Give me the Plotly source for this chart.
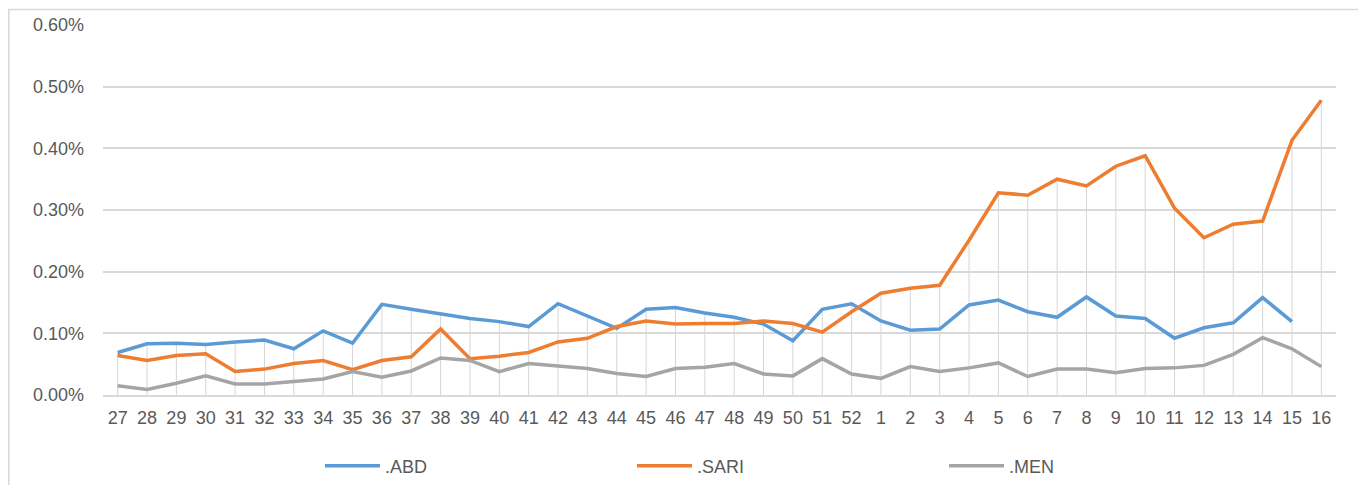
import plotly.graph_objects as go

weeks = ["27", "28", "29", "30", "31", "32", "33", "34", "35", "36", "37", "38", "39", "40",
         "41", "42", "43", "44", "45", "46", "47", "48", "49", "50", "51", "52", "1", "2",
         "3", "4", "5", "6", "7", "8", "9", "10", "11", "12", "13", "14", "15", "16"]

abd = [0.069, 0.083, 0.084, 0.082, 0.086, 0.089, 0.075, 0.104, 0.084, 0.147, 0.139, 0.131,
       0.124, 0.119, 0.111, 0.148, 0.128, 0.108, 0.139, 0.142, 0.133, 0.126, 0.115, 0.088,
       0.139, 0.148, 0.120, 0.105, 0.107, 0.146, 0.154, 0.135, 0.126, 0.159, 0.128, 0.124,
       0.092, 0.109, 0.117, 0.158, 0.119, None]

sari = [0.064, 0.056, 0.064, 0.067, 0.038, 0.042, 0.051, 0.056, 0.041, 0.056, 0.062, 0.107,
        0.059, 0.063, 0.069, 0.086, 0.092, 0.111, 0.120, 0.115, 0.116, 0.116, 0.120, 0.116,
        0.102, 0.135, 0.165, 0.173, 0.178, 0.251, 0.328, 0.324, 0.350, 0.339, 0.371, 0.388,
        0.303, 0.255, 0.277, 0.282, 0.413, 0.478]

men = [0.015, 0.009, 0.019, 0.031, 0.018, 0.018, 0.022, 0.026, 0.038, 0.029, 0.039, 0.060,
       0.056, 0.038, 0.051, 0.047, 0.043, 0.035, 0.030, 0.043, 0.045, 0.051, 0.034, 0.031,
       0.059, 0.034, 0.027, 0.046, 0.038, 0.044, 0.052, 0.030, 0.042, 0.042, 0.036, 0.043,
       0.044, 0.048, 0.066, 0.093, 0.075, 0.046]

y_ticks = [0.0, 0.1, 0.2, 0.3, 0.4, 0.5, 0.6]
y_tick_text = ["0.00%", "0.10%", "0.20%", "0.30%", "0.40%", "0.50%", "0.60%"]

series = [(".ABD", abd, "#5b9bd5"), (".SARI", sari, "#ed7d31"), (".MEN", men, "#a5a5a5")]

# drop lines: from the highest series value at each week down to the axis
drop_x, drop_y = [], []
for i, w in enumerate(weeks):
    vals = [s[i] for _, s, _ in series if s[i] is not None]
    drop_x += [w, w, None]
    drop_y += [0, max(vals), None]

fig = go.Figure()
fig.add_trace(go.Scatter(x=drop_x, y=drop_y, mode="lines", showlegend=False,
                         hoverinfo="skip", line=dict(color="#d6d6d6", width=1)))
for name, vals, color in series:
    fig.add_trace(go.Scatter(x=weeks, y=vals, name=name, mode="lines",
                             line=dict(color=color, width=3.5), connectgaps=False))

# page has an 8px body margin; figure coordinates = page coordinates - 8
OFF = 8
W, H = 1366 - OFF, 485 - OFF
L, R, T, B = 103 - OFF, 30, 25 - OFF, 90
pw, ph = W - L - R, H - T - B

def px_x(p):
    return (p - OFF - L) / pw

def px_y(p):
    return (H - B - (p - OFF)) / ph

font = dict(family="Liberation Sans, Arial, sans-serif", size=18, color="#595959")

fig.update_layout(
    width=W, height=H,
    margin=dict(l=L, r=R, t=T, b=B, autoexpand=False),
    paper_bgcolor="white", plot_bgcolor="white",
    font=font,
    showlegend=True,
    legend=dict(orientation="h", x=px_x(320), xanchor="left", y=px_y(466), yanchor="middle",
                entrywidth=242, entrywidthmode="pixels", itemwidth=55,
                font=font, bgcolor="rgba(0,0,0,0)"),
    shapes=[dict(type="rect", xref="paper", yref="paper",
                 x0=px_x(8.8), x1=px_x(1362), y0=px_y(9.5), y1=px_y(500),
                 line=dict(color="#d9d9d9", width=1.5), layer="below")],
)
fig.update_xaxes(type="category", categoryorder="array", categoryarray=weeks,
                 range=[-0.5, len(weeks) - 0.5],
                 showgrid=False, showline=True, linecolor="#d9d9d9", linewidth=1.5,
                 ticks="", ticklabelstandoff=6, tickfont=font, zeroline=False)
fig.update_yaxes(range=[0, 0.6], tickvals=y_ticks, ticktext=y_tick_text,
                 showgrid=True, gridcolor="#d9d9d9", gridwidth=1.5, zeroline=False,
                 showline=False, ticks="", ticklabelstandoff=18, tickfont=font)

fig.write_html("out.html")
